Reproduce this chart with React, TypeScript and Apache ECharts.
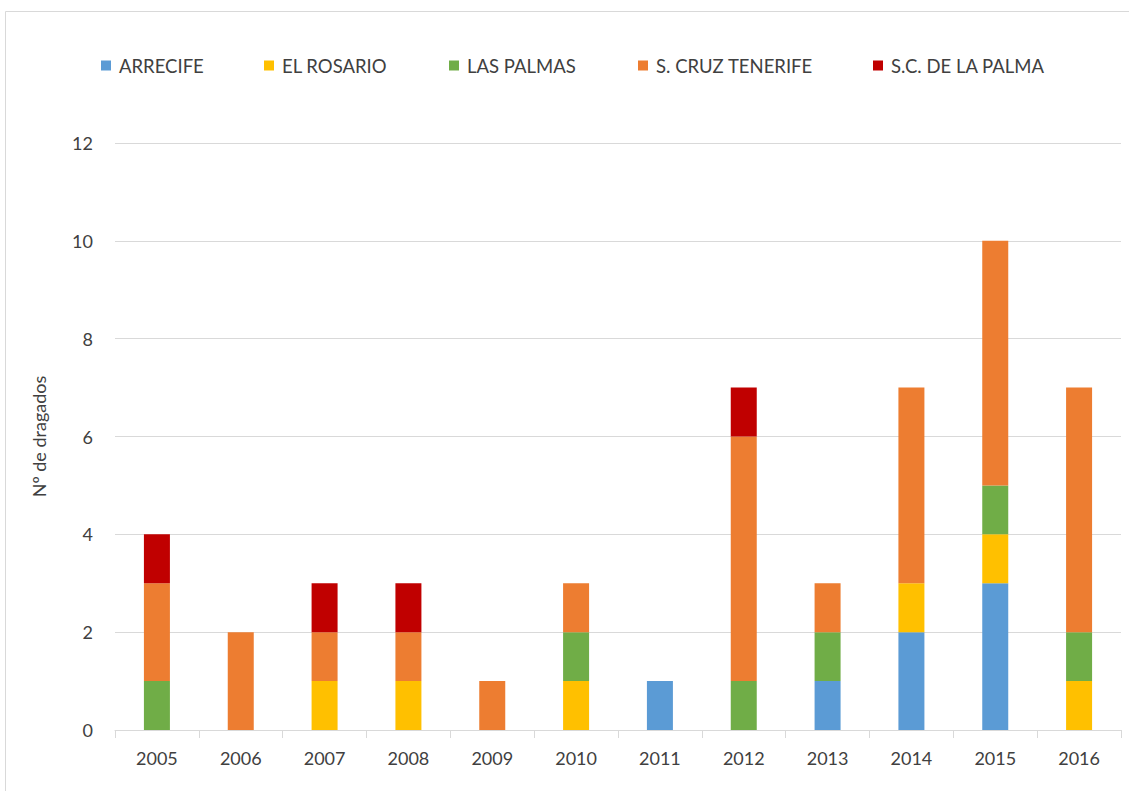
import React, { useEffect, useRef } from "react";
import * as echarts from "echarts";

const years = ["2005", "2006", "2007", "2008", "2009", "2010", "2011", "2012", "2013", "2014", "2015", "2016"];
const arrecife = [0, 0, 0, 0, 0, 0, 1, 0, 1, 2, 3, 0];
const elRosario = [0, 0, 1, 1, 0, 1, 0, 0, 0, 1, 1, 1];
const lasPalmas = [1, 0, 0, 0, 0, 1, 0, 1, 1, 0, 1, 1];
const sCruzTenerife = [2, 2, 1, 1, 1, 1, 0, 5, 1, 4, 5, 5];
const scDeLaPalma = [1, 0, 1, 1, 0, 0, 0, 1, 0, 0, 0, 0];

const seriesDefs = [
  { name: "ARRECIFE", data: arrecife, color: "#5B9BD5" },
  { name: "EL ROSARIO", data: elRosario, color: "#FFC000" },
  { name: "LAS PALMAS", data: lasPalmas, color: "#70AD47" },
  { name: "S. CRUZ TENERIFE", data: sCruzTenerife, color: "#ED7D31" },
  { name: "S.C. DE LA PALMA", data: scDeLaPalma, color: "#C00000" },
];
const legendLefts = [101, 264, 449, 638, 873];

const FONT = "Lato, 'Open Sans', sans-serif";

export default function App() {
  const ref = useRef<HTMLDivElement>(null);
  useEffect(() => {
    if (!ref.current) return;
    const chart = echarts.init(ref.current, null, { renderer: "svg" });
    chart.setOption({
      animation: false,
      backgroundColor: "#ffffff",
      textStyle: { fontFamily: FONT },
      graphic: [
        {
          type: "rect",
          shape: { x: 5.5, y: 11.5, width: 1130, height: 800 },
          style: { fill: "none", stroke: "#d9d9d9", lineWidth: 1 },
          silent: true,
        },
      ],
      legend: seriesDefs.map((s, i) => ({
        top: 56,
        left: legendLefts[i],
        padding: 0,
        itemWidth: 10,
        itemHeight: 10,
        icon: "rect",
        textStyle: { fontSize: 18.5, color: "#404040", fontFamily: FONT, padding: [0, 0, 0, 3] },
        data: [s.name],
      })),
      grid: { left: 115, right: 8, top: 143, bottom: 61, containLabel: false },
      xAxis: {
        type: "category",
        data: years,
        axisLine: { lineStyle: { color: "#d9d9d9" } },
        axisTick: { show: true, length: 8, lineStyle: { color: "#d9d9d9" }, alignWithLabel: false },
        axisLabel: { fontSize: 18, color: "#404040", margin: 19, fontFamily: FONT },
      },
      yAxis: {
        type: "value",
        min: 0,
        max: 12,
        interval: 2,
        name: "Nº de dragados",
        nameLocation: "middle",
        nameGap: 67,
        nameTextStyle: { fontSize: 18, color: "#404040", fontFamily: FONT },
        axisLine: { show: false },
        axisTick: { show: false },
        splitLine: { lineStyle: { color: "#d9d9d9" } },
        axisLabel: { fontSize: 18, color: "#404040", margin: 22, fontFamily: FONT },
      },
      series: seriesDefs.map((s) => ({
        name: s.name,
        type: "bar",
        stack: "total",
        barWidth: 26,
        data: s.data.map((v) => (v === 0 ? null : v)),
        itemStyle: { color: s.color },
      })),
    });
    return () => chart.dispose();
  }, []);
  return (
    <div
      ref={ref}
      style={{ position: "fixed", left: 0, top: 0, width: 1129, height: 791 }}
    />
  );
}
